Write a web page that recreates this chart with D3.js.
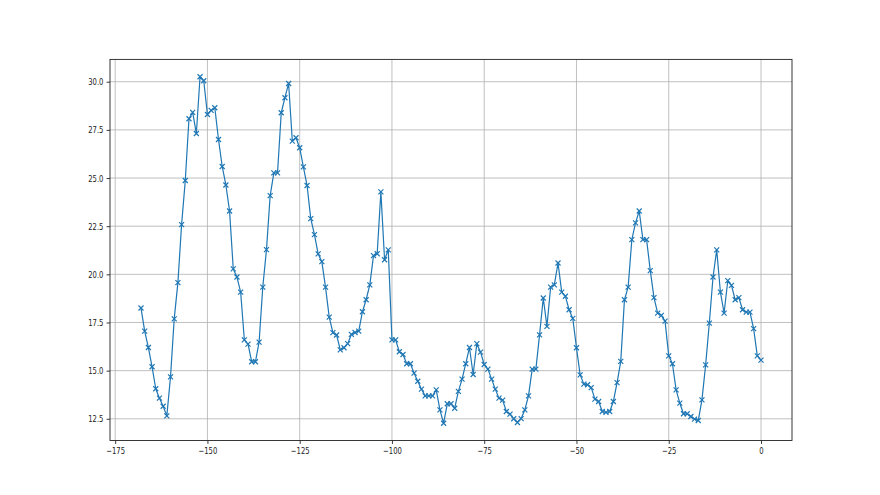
<!DOCTYPE html>
<html>
<head>
<meta charset="utf-8">
<script src="https://cdn.jsdelivr.net/npm/d3@7"></script>
<style>
  body { margin: 0; background: #fff; }
  svg { display: block; }
</style>
</head>
<body>
<div id="chart"></div>
<script>
// x positions: -168 .. 0, one reading per step
var xValues = [
  -168,-167,-166,-165,-164,-163,-162,-161,-160,-159,-158,-157,-156,-155,-154,-153,-152,-151,-150,-149,
  -148,-147,-146,-145,-144,-143,-142,-141,-140,-139,-138,-137,-136,-135,-134,-133,-132,-131,-130,-129,
  -128,-127,-126,-125,-124,-123,-122,-121,-120,-119,-118,-117,-116,-115,-114,-113,-112,-111,-110,-109,
  -108,-107,-106,-105,-104,-103,-102,-101,-100,-99,-98,-97,-96,-95,-94,-93,-92,-91,-90,-89,
  -88,-87,-86,-85,-84,-83,-82,-81,-80,-79,-78,-77,-76,-75,-74,-73,-72,-71,-70,-69,
  -68,-67,-66,-65,-64,-63,-62,-61,-60,-59,-58,-57,-56,-55,-54,-53,-52,-51,-50,-49,
  -48,-47,-46,-45,-44,-43,-42,-41,-40,-39,-38,-37,-36,-35,-34,-33,-32,-31,-30,-29,
  -28,-27,-26,-25,-24,-23,-22,-21,-20,-19,-18,-17,-16,-15,-14,-13,-12,-11,-10,-9,
  -8,-7,-6,-5,-4,-3,-2,-1,0
];

var yValues = [
  18.25,17.05,16.2,15.2,14.06,13.57,13.15,12.65,14.68,17.69,19.57,22.58,24.87,28.08,28.41,27.31,30.26,30.05,28.3,28.51,
  28.65,27.0,25.6,24.64,23.29,20.28,19.86,19.08,16.6,16.38,15.46,15.46,16.48,19.34,21.28,24.09,25.27,25.27,28.39,29.17,
  29.91,26.92,27.09,26.57,25.58,24.61,22.89,22.06,21.06,20.66,19.34,17.78,16.97,16.85,16.08,16.19,16.4,16.88,16.98,17.05,
  18.06,18.68,19.45,20.97,21.07,24.28,20.76,21.27,16.6,16.6,15.98,15.84,15.36,15.36,14.87,14.45,14.04,13.69,13.69,13.69,
  14.0,12.96,12.27,13.28,13.28,13.05,13.92,14.56,15.36,16.2,14.8,16.4,15.96,15.32,15.08,14.56,14.04,13.57,13.47,12.88,
  12.74,12.5,12.31,12.51,12.96,13.69,15.08,15.08,16.86,18.77,17.3,19.34,19.45,20.59,19.08,18.86,18.16,17.71,16.19,14.78,
  14.3,14.27,14.12,13.52,13.4,12.88,12.83,12.88,13.4,14.38,15.48,18.68,19.34,21.8,22.67,23.29,21.8,21.8,20.19,18.79,
  17.99,17.87,17.57,15.77,15.36,14.0,13.31,12.76,12.76,12.62,12.48,12.41,13.48,15.3,17.47,19.86,21.27,19.08,17.99,19.67,
  19.43,18.68,18.79,18.16,18.04,18.04,17.18,15.77,15.55
];

var xTicks = [-175, -150, -125, -100, -75, -50, -25, 0];
var yTicks = [12.5, 15.0, 17.5, 20.0, 22.5, 25.0, 27.5, 30.0];

var data = xValues.map(function(x, i) { return {x: x, y: yValues[i]}; });

var W = 880, H = 495;
var margin = {top: 59.4, right: 88, bottom: 54.45, left: 110};
var width = W - margin.left - margin.right;
var height = H - margin.top - margin.bottom;

var svg = d3.select("#chart")
            .append("svg")
            .attr("width", W)
            .attr("height", H)
            .append("g")
            .attr("transform", "translate(" + margin.left + "," + margin.top + ")");

// matplotlib style 5% padding
var xMin = d3.min(xValues), xMax = d3.max(xValues);
var yMin = d3.min(yValues), yMax = d3.max(yValues);
var xPad = (xMax - xMin) * 0.05, yPad = (yMax - yMin) * 0.05;

var x = d3.scaleLinear().domain([xMin - xPad, xMax + xPad]).range([0, width]);
var y = d3.scaleLinear().domain([yMin - yPad, yMax + yPad]).range([height, 0]);

// grid
svg.append("g")
    .selectAll("line")
    .data(xTicks)
    .join("line")
    .attr("x1", d => x(d)).attr("x2", d => x(d))
    .attr("y1", 0).attr("y2", height)
    .attr("stroke", "#b0b0b0")
    .attr("stroke-width", 0.8);

svg.append("g")
    .selectAll("line")
    .data(yTicks)
    .join("line")
    .attr("x1", 0).attr("x2", width)
    .attr("y1", d => y(d)).attr("y2", d => y(d))
    .attr("stroke", "#b0b0b0")
    .attr("stroke-width", 0.8);

// axes
var xAxis = svg.append("g")
    .attr("transform", "translate(0," + height + ")")
    .call(d3.axisBottom(x).tickValues(xTicks).tickFormat(d3.format("d")).tickSizeInner(3.4).tickSizeOuter(0).tickPadding(3.4));

var yAxis = svg.append("g")
    .call(d3.axisLeft(y).tickValues(yTicks).tickFormat(d3.format(".1f")).tickSizeInner(3.4).tickSizeOuter(0).tickPadding(3.4));

// labels in the picture are squeezed sideways
var sx = 0.72;
[xAxis, yAxis].forEach(function(a) {
    a.select(".domain").remove();
    a.selectAll(".tick line").attr("stroke", "#222").attr("stroke-width", 0.9);
    a.selectAll(".tick text")
        .attr("fill", "#222")
        .style("font-family", "'DejaVu Sans', sans-serif")
        .style("font-size", "9.5px");
});
xAxis.selectAll(".tick text").attr("transform", "scale(" + sx + ",1)");
yAxis.selectAll(".tick text")
    .attr("x", -6.6 / sx)
    .attr("transform", "scale(" + sx + ",1)");

// line
var line = d3.line().x(d => x(d.x)).y(d => y(d.y));

svg.append("path")
    .datum(data)
    .attr("fill", "none")
    .attr("stroke", "#1f77b4")
    .attr("stroke-width", 1.2)
    .attr("stroke-linejoin", "round")
    .attr("d", line);

// x markers
var m = 2.5;
svg.append("g")
    .selectAll("path")
    .data(data)
    .join("path")
    .attr("d", function(d) {
        var cx = x(d.x), cy = y(d.y);
        return "M" + (cx - m) + "," + (cy - m) + "L" + (cx + m) + "," + (cy + m) +
               "M" + (cx - m) + "," + (cy + m) + "L" + (cx + m) + "," + (cy - m);
    })
    .attr("stroke", "#1f77b4")
    .attr("stroke-width", 1.2);

// frame
svg.append("rect")
    .attr("width", width)
    .attr("height", height)
    .attr("fill", "none")
    .attr("stroke", "#222")
    .attr("stroke-width", 0.9);
</script>
</body>
</html>
